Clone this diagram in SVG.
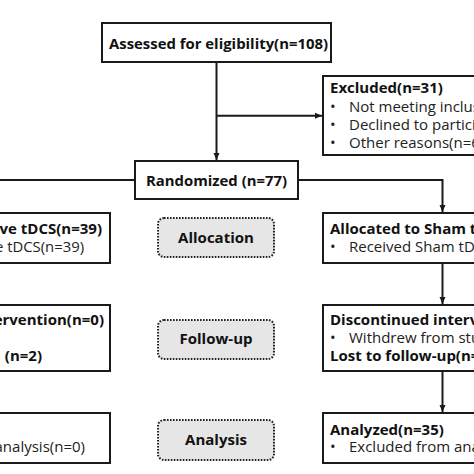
<svg xmlns="http://www.w3.org/2000/svg" width="474" height="474" viewBox="0 0 474 474">
<defs>
<style>
.box{fill:#fff;stroke:#1a1a1a;stroke-width:2}
.lbl{fill:#e6e6e6;stroke:#222;stroke-width:2;stroke-dasharray:1.6 1.4}
.b{font-family:"Open Sans","Noto Sans",sans-serif;font-weight:bold;font-size:15px;fill:#111}
.r{font-family:"Open Sans","Noto Sans",sans-serif;font-size:15px;fill:#222}
.ln{fill:none;stroke:#1a1a1a;stroke-width:2}
</style>
<marker id="ah" markerWidth="8" markerHeight="8" refX="7" refY="4" orient="auto" markerUnits="userSpaceOnUse">
<path d="M0,1 L7,4 L0,7 Z" fill="#1a1a1a"/>
</marker>
</defs>
<rect width="474" height="474" fill="#fff"/>
<g id="connectors">
<path class="ln" d="M216.5,62 V160" marker-end="url(#ah)"/>
<path class="ln" d="M216.5,115.7 H322" marker-end="url(#ah)"/>
<path class="ln" d="M135,180 H-5"/>
<path class="ln" d="M298,180 H442.5 V212" marker-end="url(#ah)"/>
<path class="ln" d="M442.5,263 V304" marker-end="url(#ah)"/>
<path class="ln" d="M442.5,371 V412" marker-end="url(#ah)"/>
</g>
<g id="assessed">
<rect class="box" x="102" y="23" width="229" height="39"/>
<text class="b" x="109" y="49" textLength="219" lengthAdjust="spacingAndGlyphs">Assessed for eligibility(n=108)</text>
</g>
<g id="excluded">
<rect class="box" x="323" y="76" width="170" height="79"/>
<text class="b" x="330" y="93">Excluded(n=31)</text>
<text class="r" x="330" y="112">•</text><text class="r" x="349" y="112">Not meeting inclus</text>
<text class="r" x="330" y="130">•</text><text class="r" x="349" y="130">Declined to partici</text>
<text class="r" x="330" y="148">•</text><text class="r" x="349" y="148">Other reasons(n=6</text>
</g>
<g id="randomized">
<rect class="box" x="135" y="161" width="163" height="38"/>
<text class="b" x="146" y="186" textLength="141" lengthAdjust="spacingAndGlyphs">Randomized (n=77)</text>
</g>
<g id="active">
<rect class="box" x="-10" y="213" width="120" height="50"/>
<text class="b" x="102" y="234" text-anchor="end">ve tDCS(n=39)</text>
<text class="r" x="-5" y="252" textLength="89" lengthAdjust="spacingAndGlyphs">e tDCS(n=39)</text>
</g>
<g id="allocation">
<rect class="lbl" x="158" y="218" width="116" height="39" rx="6"/>
<text class="b" x="216" y="243" text-anchor="middle">Allocation</text>
</g>
<g id="sham">
<rect class="box" x="323" y="213" width="170" height="50"/>
<text class="b" x="330" y="234">Allocated to Sham t</text>
<text class="r" x="330" y="252">•</text><text class="r" x="349" y="252">Received Sham tD</text>
</g>
<g id="followup-left">
<rect class="box" x="-10" y="305" width="120" height="66"/>
<text class="b" x="104" y="325" text-anchor="end">ervention(n=0)</text>
<text class="b" x="42" y="361" text-anchor="end">(n=2)</text>
</g>
<g id="followup">
<rect class="lbl" x="158" y="320" width="116" height="39" rx="6"/>
<text class="b" x="216" y="344" text-anchor="middle">Follow-up</text>
</g>
<g id="discontinued">
<rect class="box" x="323" y="305" width="170" height="66"/>
<text class="b" x="330" y="325">Discontinued interv</text>
<text class="r" x="330" y="343">•</text><text class="r" x="349" y="343">Withdrew from stu</text>
<text class="b" x="330" y="361">Lost to follow-up(n=</text>
</g>
<g id="analysis-left">
<rect class="box" x="-10" y="413" width="120" height="50"/>
<text class="r" x="85" y="452" text-anchor="end">analysis(n=0)</text>
</g>
<g id="analysis">
<rect class="lbl" x="158" y="420" width="116" height="40" rx="6"/>
<text class="b" x="216" y="445" text-anchor="middle">Analysis</text>
</g>
<g id="analyzed">
<rect class="box" x="323" y="413" width="170" height="50"/>
<text class="b" x="330" y="435">Analyzed(n=35)</text>
<text class="r" x="330" y="452">•</text><text class="r" x="349" y="452">Excluded from ana</text>
</g>
</svg>
